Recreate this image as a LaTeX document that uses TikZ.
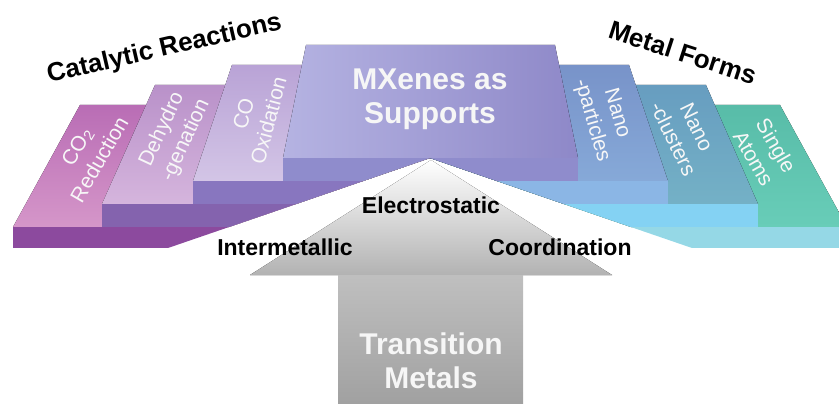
\documentclass[tikz,border=0pt]{standalone}
\usepackage{fontspec}
\setmainfont{Liberation Sans}
\usepackage{xcolor}
\usepackage{tikz}
\usetikzlibrary{positioning}
\definecolor{coTwoTop}{HTML}{B96DB5}
\definecolor{coTwoBot}{HTML}{D596C9}
\definecolor{coTwoSide}{HTML}{8C4A9E}
\definecolor{dehydroTop}{HTML}{B991C9}
\definecolor{dehydroBot}{HTML}{D5B5DD}
\definecolor{dehydroSide}{HTML}{8463AE}
\definecolor{coOxTop}{HTML}{B9A3D6}
\definecolor{coOxBot}{HTML}{D3C5E6}
\definecolor{coOxSide}{HTML}{8876BF}
\definecolor{mxLeft}{HTML}{B5B3E2}
\definecolor{mxRight}{HTML}{8E88C8}
\definecolor{mxSide}{HTML}{8F8CCC}
\definecolor{particleTop}{HTML}{7893C9}
\definecolor{particleBot}{HTML}{86A9D8}
\definecolor{particleSide}{HTML}{8BB6E5}
\definecolor{clusterTop}{HTML}{679DC0}
\definecolor{clusterBot}{HTML}{74B1C6}
\definecolor{clusterSide}{HTML}{84D2F3}
\definecolor{atomTop}{HTML}{58BCA8}
\definecolor{atomBot}{HTML}{68CDB8}
\definecolor{atomSide}{HTML}{95D8E6}

\begin{document}
\begin{tikzpicture}
  [
    x=1pt, y=-1pt,
    Heading/.style={font=\fontsize{26}{30}\selectfont\bfseries, text=black, anchor=base, inner sep=0pt},
    Slab/.style={font=\fontsize{21}{26}\selectfont, text=white!97!black, align=center, inner sep=0pt},
    Bond/.style={font=\fontsize{23}{27}\selectfont\bfseries, text=black, anchor=base, inner sep=0pt},
    Title/.style={font=\fontsize{30}{34}\selectfont\bfseries, text=white!93!gray, align=center, inner sep=0pt}
  ]
  \useasboundingbox (0,0) rectangle (839,404);
  % Steps
  \begin{scope}
    \clip (0,0) -- (839,0) -- (839,248) -- (692,248) -- (430,158) -- (168,248) -- (0,248) -- cycle;
    % outer step
    \fill[top color=coTwoTop, bottom color=coTwoBot] (80,105) -- (430,105) -- (430,227) -- (13,227) -- cycle;
    \fill[top color=atomTop, bottom color=atomBot] (430,105) -- (780,105) -- (847,227) -- (430,227) -- cycle;
    \fill[coTwoSide] (13,227) rectangle (430,248);
    \fill[atomSide] (430,227) rectangle (847,248);
    % second step
    \fill[top color=dehydroTop, bottom color=dehydroBot] (155,85) -- (430,85) -- (430,204) -- (102,204) -- cycle;
    \fill[top color=clusterTop, bottom color=clusterBot] (430,85) -- (706,85) -- (758,204) -- (430,204) -- cycle;
    \fill[dehydroSide] (102,204) rectangle (430,227);
    \fill[clusterSide] (430,204) rectangle (758,227);
    % third step
    \fill[top color=coOxTop, bottom color=coOxBot] (232,65) -- (430,65) -- (430,181) -- (193,181) -- cycle;
    \fill[top color=particleTop, bottom color=particleBot] (430,65) -- (629,65) -- (668,181) -- (430,181) -- cycle;
    \fill[coOxSide] (193,181) rectangle (430,204);
    \fill[particleSide] (430,181) rectangle (668,204);
    % top step
    \fill[left color=mxLeft, right color=mxRight] (306,45) -- (555,45) -- (578,158) -- (283,158) -- cycle;
    \fill[mxSide] (283,158) rectangle (578,181);
  \end{scope}
  % Arrow
  \fill[top color=white, bottom color=black!30] (250,275) -- (431,160) -- (612,275) -- cycle;
  \fill[top color=black!25, bottom color=black!37] (338,275) rectangle (523,404);
  % Nodes
  \node[Heading, rotate=13] (catalytic) at (166,56) {Catalytic Reactions};
  \node[Heading, rotate=-18] (metalforms) at (680,61) {Metal Forms};
  \node[Title] (mxenes) at (430,99) {MXenes as\\Supports};
  \node[Slab, rotate=60] (coTwo) at (88,153) {CO\textsubscript{2}\\Reduction};
  \node[Slab, rotate=65] (dehydro) at (174,135) {Dehydro\\-genation};
  \node[Slab, rotate=75] (coOx) at (256,117) {CO\\Oxidation};
  \node[Slab, rotate=-74] (particles) at (604,117) {Nano\\-particles};
  \node[Slab, rotate=-64] (clusters) at (685,133) {Nano\\-clusters};
  \node[Slab, rotate=-60] (atoms) at (765,152) {Single\\Atoms};
  \node[Title] (metals) at (431,361) {Transition\\Metals};
  \node[Bond] (electro) at (431,213) {Electrostatic};
  \node[Bond] (inter) at (285,255) {Intermetallic};
  \node[Bond] (coord) at (560,255) {Coordination};
\end{tikzpicture}
\end{document}
